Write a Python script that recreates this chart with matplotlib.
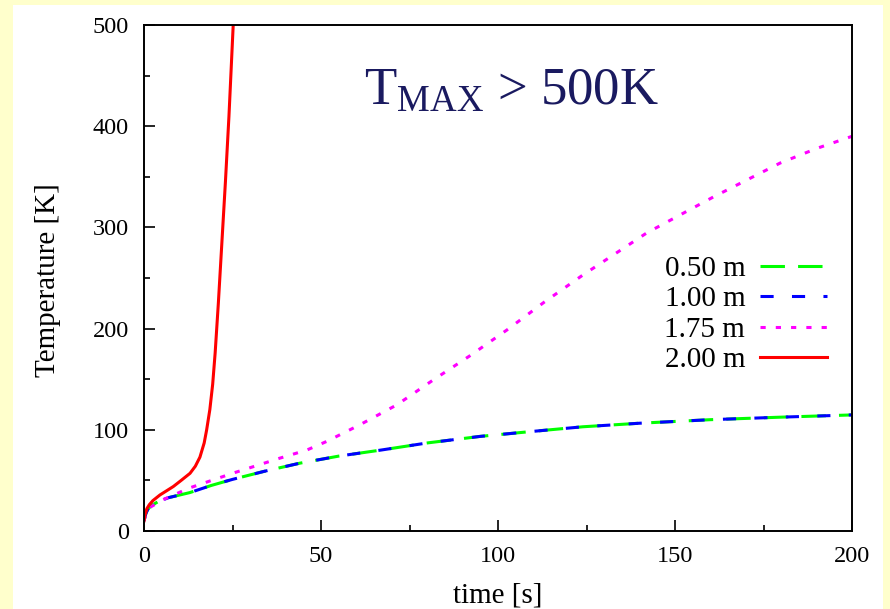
import matplotlib.pyplot as plt
from matplotlib.patches import Rectangle

# values
t_050 = [0, 0.5, 1, 2, 4, 7, 13, 19, 25, 34, 44, 55, 67, 80, 95, 110, 124, 140, 160, 180, 200]
T_050 = [10, 17, 21, 25, 29, 33, 38, 45, 51, 59, 67, 74, 80, 87, 93.5, 98.5, 103, 106.5, 110, 112.5, 114.7]

t_100 = [0, 0.5, 1, 2, 4, 7, 13, 19, 25, 34, 44, 55, 67, 80, 95, 110, 124, 140, 160, 180, 200]
T_100 = [10, 17, 21, 25, 29, 33, 38, 45, 51, 59, 67, 74, 80, 87, 93.5, 98.5, 103, 106.5, 110, 112.5, 114.7]

t_175 = [0, 0.5, 1, 2, 5.4, 12.9, 25, 38.4, 46, 51.6, 61, 71.4, 81.6, 92, 102.5, 113, 124, 142, 160.8, 179.7, 190, 200]
T_175 = [10, 17, 21, 24, 31, 42.6, 57, 72, 80, 88.5, 105, 124.6, 149, 173, 198.6, 226, 253, 294.5, 330, 363.6, 378, 390]

t_200 = [0, 0.3, 0.8, 1.5, 2.5, 4.5, 6.5, 8.3, 10.5, 13, 14.5, 15.8, 17, 17.7, 18.6, 19.4, 20.1, 21, 22, 23, 24, 25.2]
T_200 = [10, 16, 22, 26, 30, 35.6, 40, 44, 50, 57, 64, 73, 87, 100, 120, 145, 176, 225, 285, 345, 410, 500]

labels = ['0.50 m', '1.00 m', '1.75 m', '2.00 m']

plt.rcParams['font.family'] = ['Liberation Serif', 'DejaVu Serif']
plt.rcParams['mathtext.fontset'] = 'custom'
plt.rcParams['mathtext.rm'] = 'Liberation Serif'

fig = plt.figure(figsize=(8.9, 6.09), dpi=100, facecolor='#ffffcc')
fig.patches.append(Rectangle((13/890, 0), 870/890, 604/609, transform=fig.transFigure,
                             facecolor='white', edgecolor='none', zorder=-10))
ax = fig.add_axes([144/890, 78/609, 708/890, 506/609])
ax.set_zorder(5)

ax.plot(t_050, T_050, color='#00ff00', lw=2.2, dashes=(8, 4.3), label=labels[0])
ax.plot(t_100, T_100, color='#0000ff', lw=2.2, dashes=(4.3, 6), label=labels[1])
ax.plot(t_175, T_175, color='#ff00ff', lw=2.2, dashes=(1.7, 3.3), label=labels[2])
ax.plot(t_200, T_200, color='#ff0000', lw=2.2, label=labels[3])

ax.set_xlim(0, 200)
ax.set_ylim(0, 500)
ax.set_xticks([0, 50, 100, 150, 200])
ax.set_xticks([25, 75, 125, 175], minor=True)
ax.set_yticks([0, 100, 200, 300, 400, 500])
ax.set_yticks([50, 150, 250, 350, 450], minor=True)
ax.tick_params(which='both', direction='in', top=False, right=False, labelsize=17.5, pad=11)
ax.tick_params(which='major', length=8, width=1.2)
ax.tick_params(which='minor', length=4, width=1.2)
for s in ax.spines.values():
    s.set_linewidth(1.4)

ax.set_xlabel('time [s]', fontsize=21)
ax.set_ylabel('Temperature [K]', fontsize=21)
ax.xaxis.set_label_coords(0.5, -0.127)
ax.xaxis.label.set_va('center')
ax.yaxis.set_label_coords(-0.135, 0.496)
ax.yaxis.label.set_va('center')

ax.text(0.519, 0.842, r'$\mathrm{T_{MAX}}$ > 500K', transform=ax.transAxes,
        fontsize=38, color='#1a1a60', ha='center', va='baseline')

ax.legend(loc='center right', bbox_to_anchor=(0.985, 0.428), frameon=False, markerfirst=False,
          fontsize=21, handlelength=2.3, handletextpad=0.5, labelspacing=0.14, borderpad=0)

fig.savefig('out.png', dpi=100, facecolor=fig.get_facecolor())
